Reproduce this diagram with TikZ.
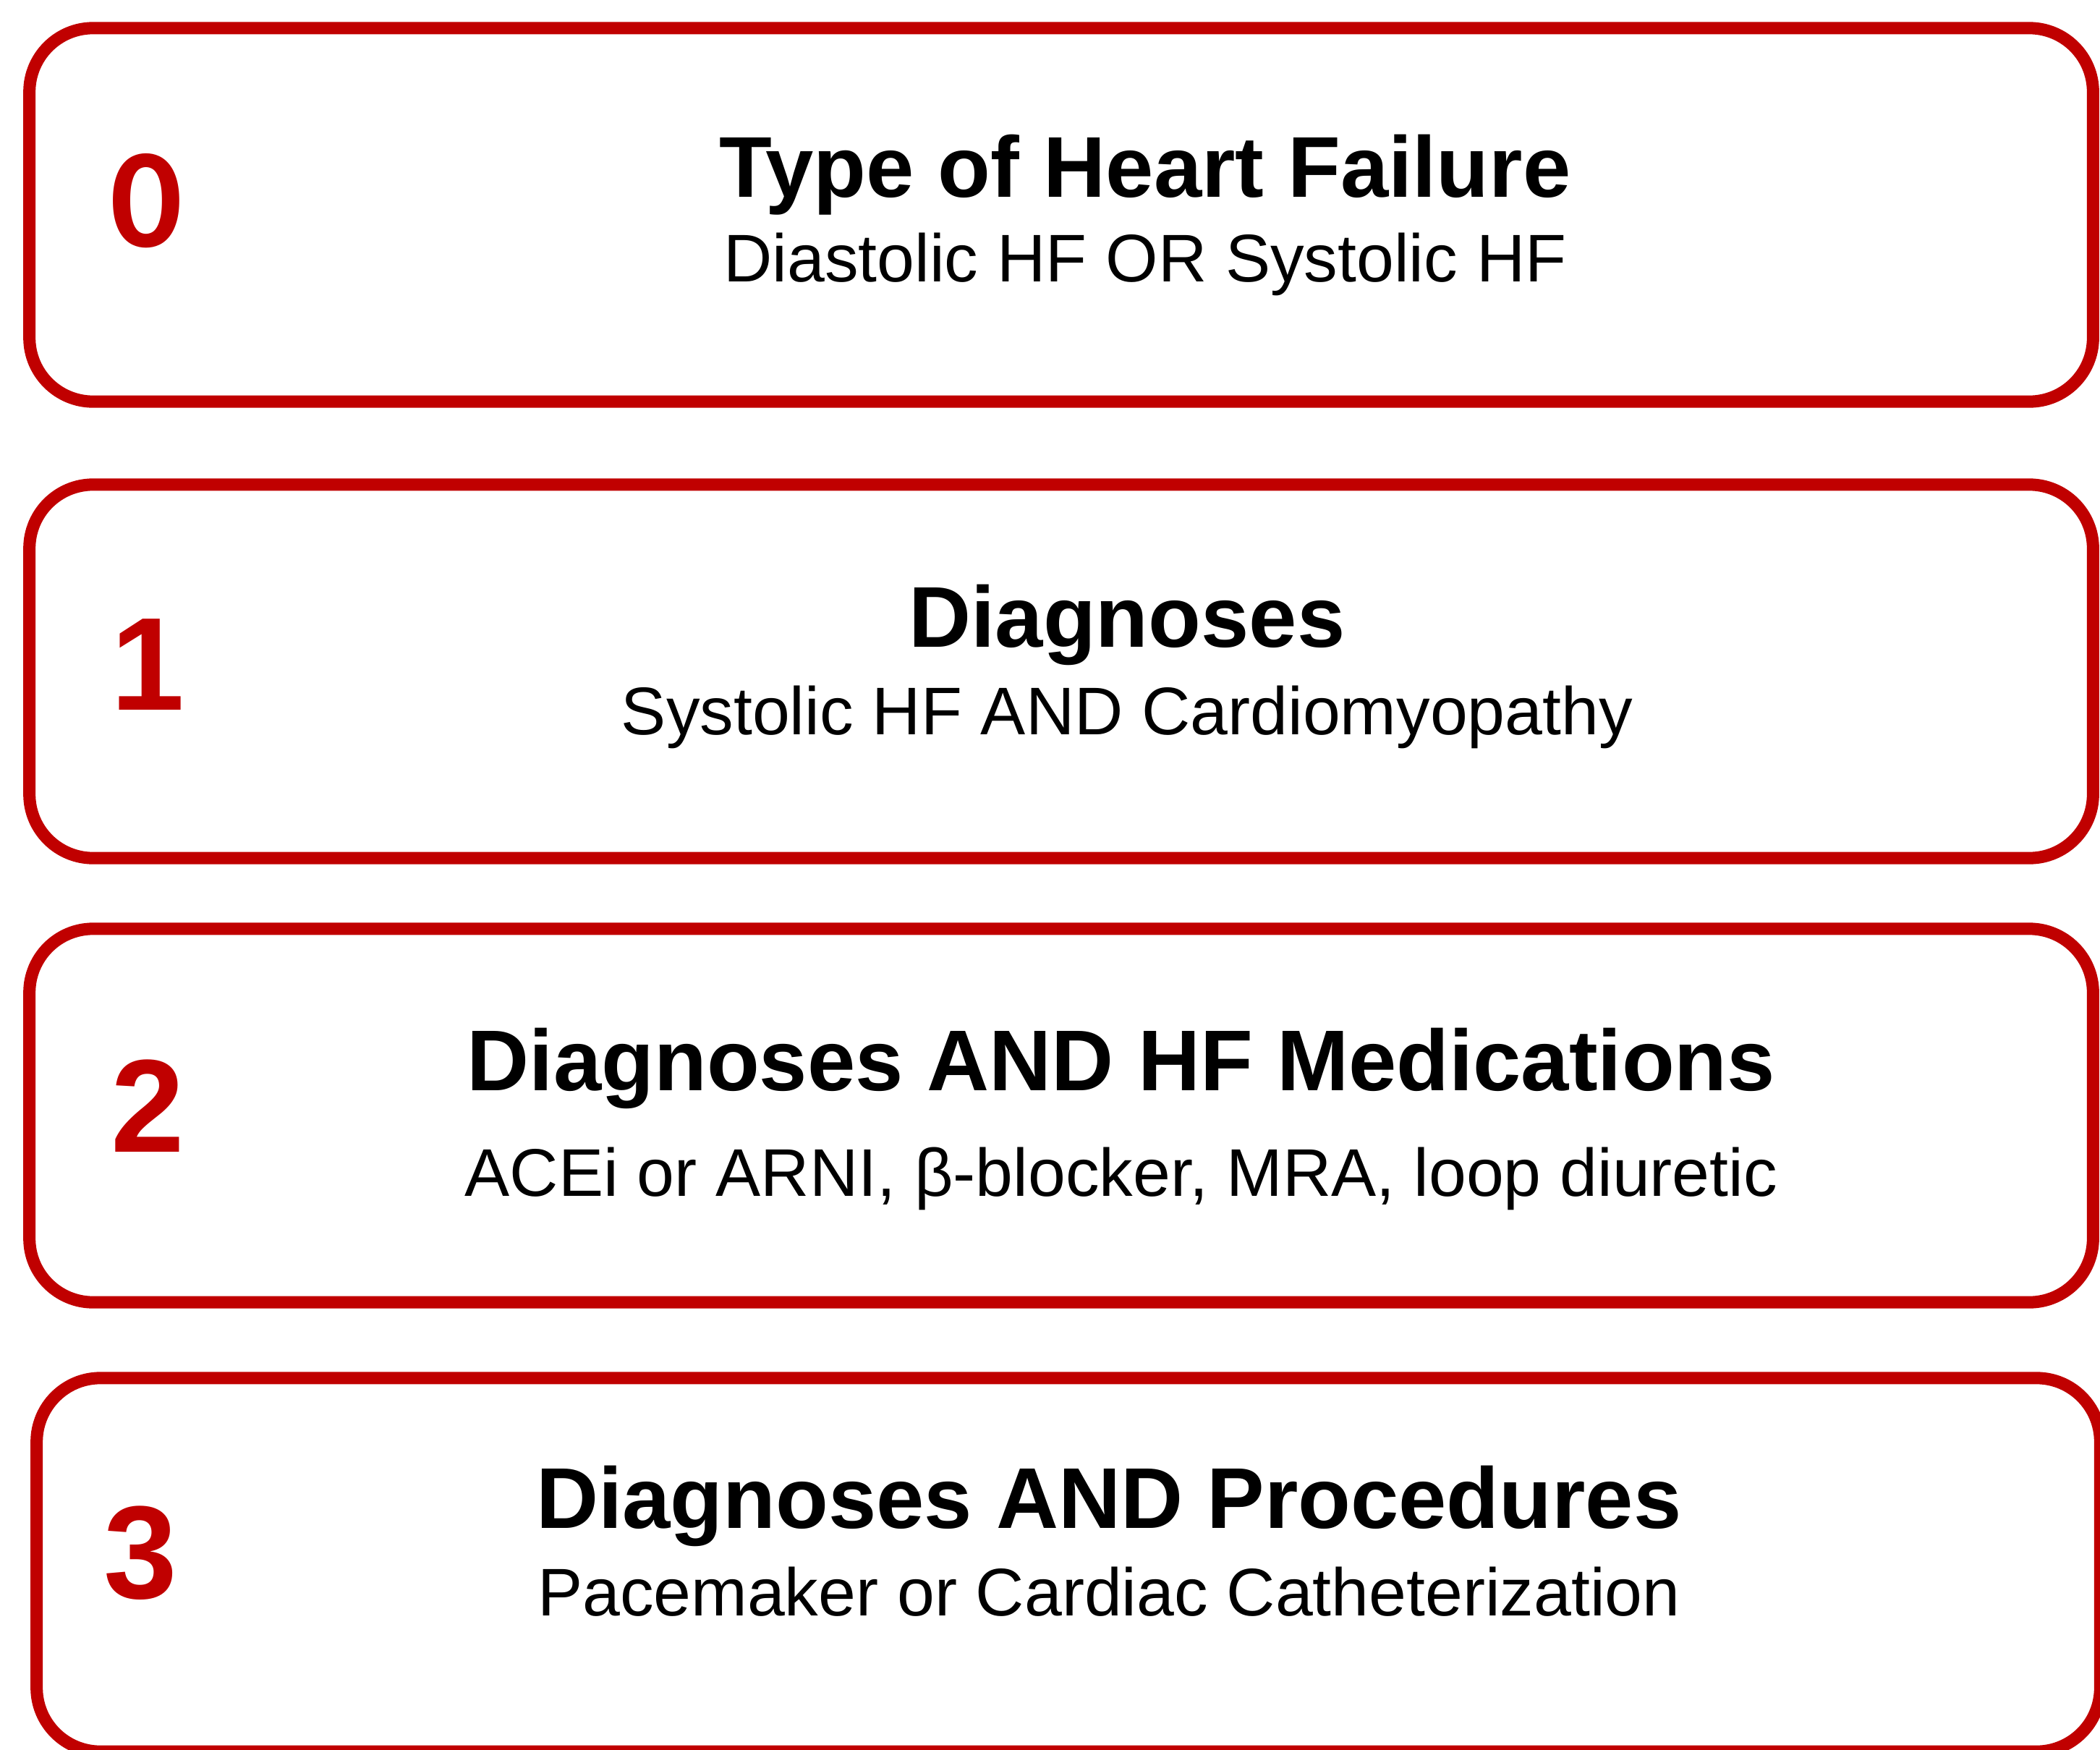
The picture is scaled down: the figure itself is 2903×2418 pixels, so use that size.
\documentclass[tikz,border=0pt]{standalone}
\usepackage{fontspec}
\setmainfont{Liberation Sans}
\newfontfamily\zerofont{Carlito}
\usepackage{tikz}
\usetikzlibrary{positioning}
\definecolor{hfred}{RGB}{192,0,0}

\begin{document}
\begin{tikzpicture}[x=0.01cm, y=-0.01cm,
		hfbox/.style={draw=hfred, line width=0.17cm, rounded corners=0.88cm,
			minimum width=28.51cm, minimum height=5.16cm, inner sep=0pt},
		num/.style={text=hfred, inner sep=0pt, font=\fontsize{52}{60}\selectfont\bfseries},
		ttl/.style={inner sep=0pt, anchor=base, font=\fontsize{33.9}{40}\selectfont\bfseries},
		sub/.style={inner sep=0pt, anchor=base, font=\fontsize{26.5}{32}\selectfont}]
		\useasboundingbox (0,0) rectangle (2903,2418);
		% the four levels
		\node[hfbox] (b0) at (1467,297) {};
		\node[hfbox] (b1) at (1467,928) {};
		\node[hfbox] (b2) at (1467,1542) {};
		\node[hfbox] (b3) at (1477,2163) {};
		\node[num, font=\zerofont\fontsize{56}{64}\selectfont\bfseries] (n0) at (202,278) {0};
		\node[num] (n1) at (204,919) {1};
		\node[num] (n2) at (204,1529) {2};
		\node[num] (n3) at (194,2147) {3};
		\node[ttl] (t0) at (1583,272) {Type of Heart Failure};
		\node[sub, below = 1.17cm of t0.base, anchor=base] (s0) {Diastolic HF OR Systolic HF};
		\node[ttl] (t1) at (1558,894) {Diagnoses};
		\node[sub, below = 1.21cm of t1.base, anchor=base] (s1) {Systolic HF AND Cardiomyopathy};
		\node[ttl] (t2) at (1550,1507) {Diagnoses AND HF Medications};
		\node[sub, below = 1.46cm of t2.base, anchor=base] (s2) {ACEi or ARNI, β-blocker, MRA, loop diuretic};
		\node[ttl] (t3) at (1533,2112) {Diagnoses AND Procedures};
		\node[sub, below = 1.21cm of t3.base, anchor=base] (s3) {Pacemaker or Cardiac Catheterization};
	\end{tikzpicture}
\end{document}
